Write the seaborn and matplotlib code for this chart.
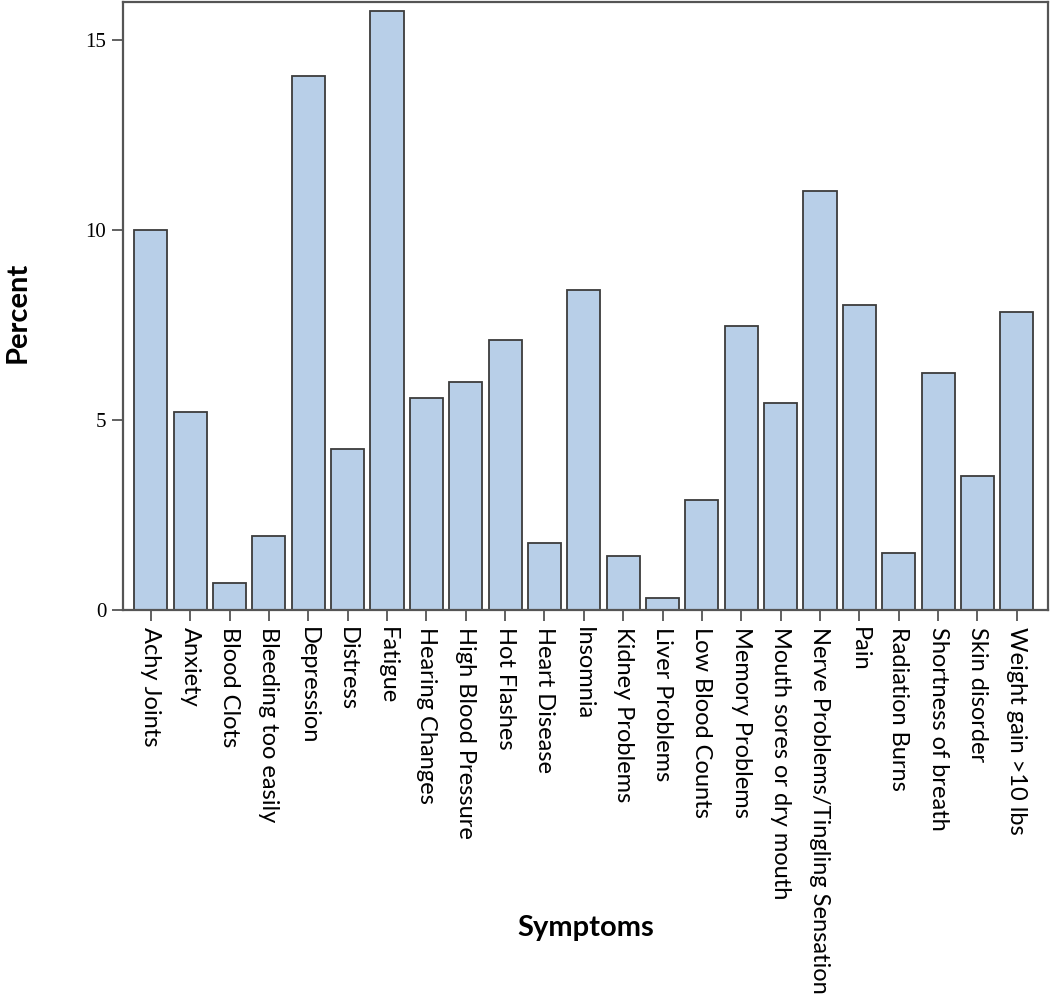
import numpy as np
import pandas as pd
import matplotlib
matplotlib.use("Agg")
import matplotlib.pyplot as plt
import seaborn as sns

symptoms = [
    "Achy Joints", "Anxiety", "Blood Clots", "Bleeding too easily", "Depression",
    "Distress", "Fatigue", "Hearing Changes", "High Blood Pressure", "Hot Flashes",
    "Heart Disease", "Insomnia", "Kidney Problems", "Liver Problems",
    "Low Blood Counts", "Memory Problems", "Mouth sores or dry mouth",
    "Nerve Problems/Tingling Sensation", "Pain", "Radiation Burns",
    "Shortness of breath", "Skin disorder", "Weight gain >10 lbs",
]
percent = [
    10.0, 5.22, 0.71, 1.95, 14.07, 4.25, 15.77, 5.57, 6.0, 7.1,
    1.77, 8.42, 1.42, 0.32, 2.9, 7.49, 5.46, 11.03, 8.02, 1.5,
    6.23, 3.54, 7.84,
]
y_ticks = [0, 5, 10, 15]

df = pd.DataFrame({"Symptoms": symptoms, "Percent": percent})

sns.set_style("white")
plt.rcParams["text.color"] = "black"
plt.rcParams["axes.labelcolor"] = "black"
plt.rcParams["xtick.labelcolor"] = "black"
plt.rcParams["ytick.labelcolor"] = "black"

fig = plt.figure(figsize=(10.5, 9.96), dpi=100)
ax = fig.add_axes([0.117, 0.3876, 0.881, 0.610])

# bars
sns.barplot(data=df, x="Symptoms", y="Percent", color="#b8cfe8",
            saturation=1, width=0.84, edgecolor="#3c3c3c", linewidth=1.3, ax=ax)

ax.set_xlim(-0.71, 22.79)
ax.set_ylim(0, 16)
ax.set_yticks(y_ticks)
ax.set_yticklabels([str(t) for t in y_ticks], fontfamily="Liberation Serif", fontsize=15)
ax.set_xticks(range(len(symptoms)))
ax.set_xticklabels(symptoms, rotation=-90, fontfamily="Lato", fontsize=17,
                   ha="center", va="top")

ax.tick_params(axis="both", length=8, width=1.3, color="#555555", direction="out",
               bottom=True, left=True, pad=4, labelcolor="black")
for s in ax.spines.values():
    s.set_color("#555555")
    s.set_linewidth(1.6)

ax.set_xlabel("Symptoms", fontfamily="Lato", fontweight="bold", fontsize=21, color="black")
ax.set_ylabel("Percent", fontfamily="Lato", fontweight="bold", fontsize=21, color="black")
ax.xaxis.set_label_coords(0.5, -0.502)
ax.yaxis.set_label_coords(-0.1, 0.49)

fig.savefig("out.png", dpi=100)
